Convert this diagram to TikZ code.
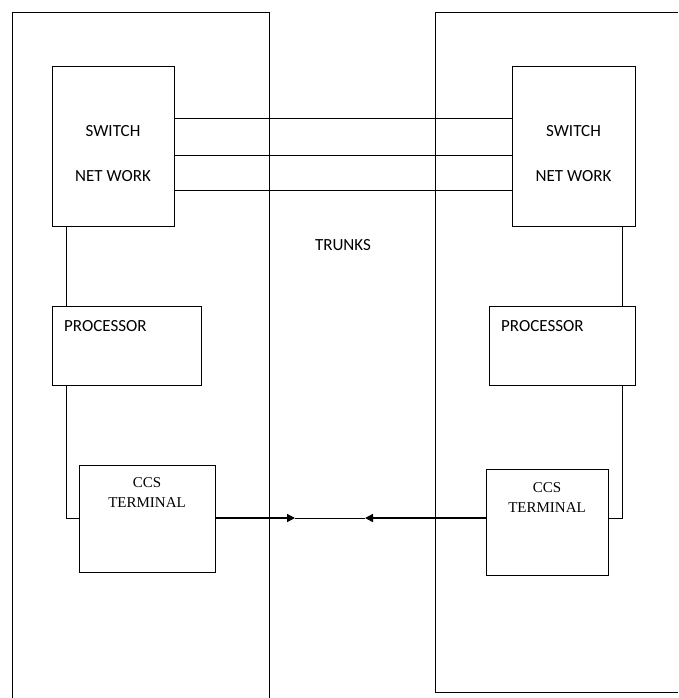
\documentclass[tikz,border=0pt]{standalone}
\usepackage{fontspec}
\setmainfont{Carlito}
\newfontfamily\tnr{Liberation Serif}
\usetikzlibrary{arrows.meta}
\begin{document}
\begin{tikzpicture}[x=1pt,y=-1pt,
  box/.style={draw,line width=1pt,minimum width=#1,inner sep=0pt,anchor=north west},
  lab/.style={inner sep=0pt,font=\fontsize{17}{20}\selectfont},
  tlab/.style={inner sep=0pt,align=center,font=\tnr\fontsize{15}{20}\selectfont},
  wire/.style={line width=1pt},
  sigw/.style={line width=1.5pt},
  tip/.style={-{Triangle[length=8pt,width=8pt]}}]
\useasboundingbox (0,0) rectangle (678,698);
% exchange frames (open, running off the page)
\draw[wire] (12,698) -- (12,13) -- (269,13) -- (269,698);
\draw[wire] (678,13) -- (435,13) -- (435,692) -- (678,692);
% boxes
\node[box=122pt,minimum height=160pt] (swL) at (52,66) {};
\node[box=123pt,minimum height=160pt] (swR) at (512,66) {};
\node[box=149pt,minimum height=79pt] (prL) at (52,306) {};
\node[box=146pt,minimum height=79pt] (prR) at (489,306) {};
\node[box=136pt,minimum height=107pt] (ccL) at (79,465) {};
\node[box=122pt,minimum height=106pt] (ccR) at (486,469) {};
% labels
\node[lab] (swLa) at (113,131) {SWITCH};
\node[lab] (swLb) at (113,176) {NET WORK};
\node[lab] (swRa) at (573.5,131) {SWITCH};
\node[lab] (swRb) at (573.5,176) {NET WORK};
\node[lab] (trk) at (343,245) {TRUNKS};
\node[lab,anchor=west] (prLa) at (64,326) {PROCESSOR};
\node[lab,anchor=west] (prRa) at (501,326) {PROCESSOR};
\node[tlab] (ccLa) at (147,493) {CCS\\TERMINAL};
\node[tlab] (ccRa) at (547,497.5) {CCS\\TERMINAL};
% coordinates
\coordinate (t1) at (0,119);
\coordinate (t2) at (0,155);
\coordinate (t3) at (0,190);
\coordinate (xL) at (66,0);
\coordinate (xR) at (622,0);
\coordinate (sig) at (0,518);
\coordinate (aL) at (295,518);
\coordinate (aR) at (365,518);
% trunks
\draw[wire] (swL.east |- t1) -- (swR.west |- t1);
\draw[wire] (swL.east |- t2) -- (swR.west |- t2);
\draw[wire] (swL.east |- t3) -- (swR.west |- t3);
% internal connections
\draw[wire] (swL.south -| xL) -- (prL.north -| xL);
\draw[wire] (prL.south -| xL) |- (ccL.west |- sig);
\draw[wire] (swR.south -| xR) -- (prR.north -| xR);
\draw[wire] (prR.south -| xR) |- (ccR.east |- sig);
% signalling link
\draw[sigw,tip] (ccL.east |- sig) -- (aL);
\draw[wire] (aL) -- (aR);
\draw[sigw,tip] (ccR.west |- sig) -- (aR);
\end{tikzpicture}
\end{document}
